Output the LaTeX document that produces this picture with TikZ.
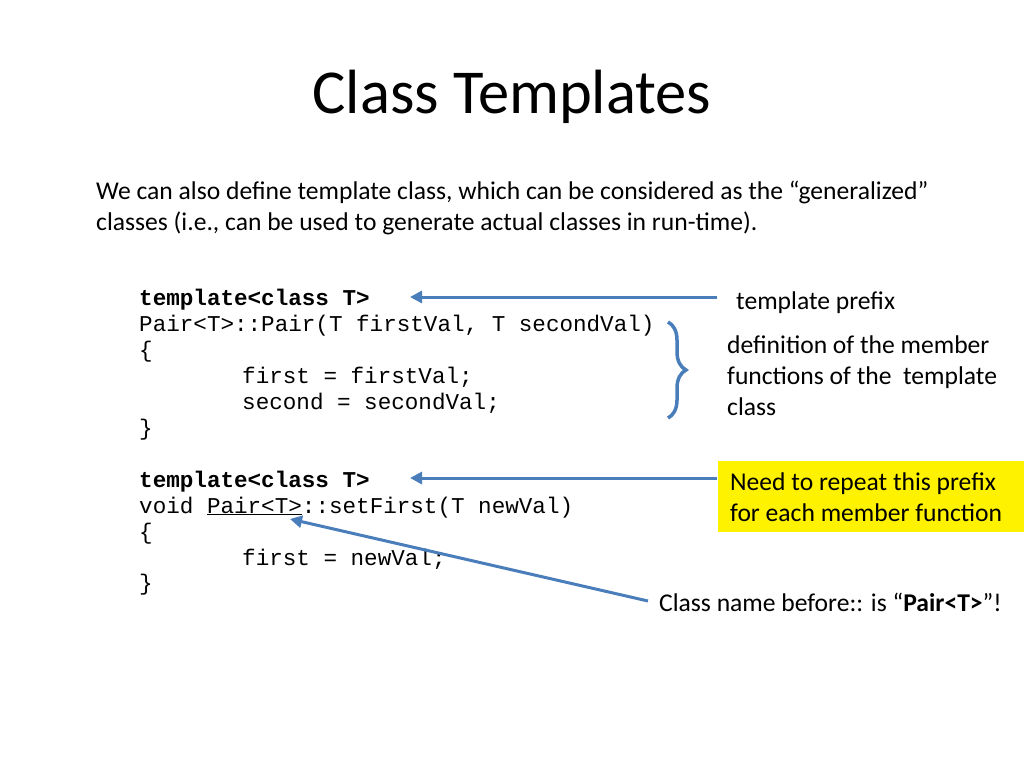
\documentclass[tikz,border=0pt]{standalone}
\usepackage{fontspec}
\setmainfont{Carlito}
\setmonofont{Liberation Mono}
\usetikzlibrary{arrows.meta,decorations.pathreplacing}
\definecolor{ablue}{HTML}{4A7EBB}
\tikzset{
  body/.style={anchor=west,inner sep=0pt,font=\fontsize{25.6}{31}\selectfont},
  code/.style={anchor=base west,inner sep=0pt,font=\fontsize{22.6}{26}\ttfamily},
  arr/.style={draw=ablue,line width=3pt,-{Triangle[length=12pt,width=12pt]}}
}
\begin{document}
\begin{tikzpicture}[x=1pt,y=-1pt]
\useasboundingbox (0,0) rectangle (1024,768);
\node[inner sep=0pt,font=\fontsize{62.5}{70}\selectfont] (title) at (512,97) {Class Templates};
\node[body] (p1) at (96,192) {We can also define template class, which can be considered as the “generalized”};
\node[body] (p2) at (96,223) {classes (i.e., can be used to generate actual classes in run-time).};
% code
\node[code] (c1) at (139,305) {\textbf{template<class T>}};
\node[code] (c2) at (139,331) {Pair<T>::Pair(T firstVal, T secondVal)};
\node[code] (c3) at (139,357) {\{};
\node[code] (c4) at (242,383) {first = firstVal;};
\node[code] (c5) at (242,409) {second = secondVal;};
\node[code] (c6) at (139,435) {\}};
\node[code] (d1) at (139,487) {\textbf{template<class T>}};
\node[code] (d2) at (139,513) {void \underline{Pair<T>}::setFirst(T newVal)};
\node[code] (d3) at (139,539) {\{};
\node[code] (d4) at (242,565) {first = newVal;};
\node[code] (d5) at (139,590) {\}};
% labels
\node[body] (l1) at (736,303) {template prefix};
\node[body,align=left,font=\fontsize{25.6}{31}\selectfont] (l2) at (727,376) {definition of the member\\functions of the\ \ template\\class};
\node[fill=yellow,anchor=north west,minimum width=306pt,minimum height=71pt,inner sep=0pt] (yb) at (718,461) {};
\node[body,align=left,font=\fontsize{25.6}{31}\selectfont] (l3) at (730,497) {Need to repeat this prefix\\for each member function};
\node[body] (l4) at (659,602) {Class name before:: is “\textbf{Pair<T>}”!};
\coordinate (a1s) at (717,297); \coordinate (a1e) at (410,297);
\coordinate (a2s) at (717,478); \coordinate (a2e) at (410,478);
\coordinate (a3s) at (648,601); \coordinate (a3e) at (290,519);
\draw[arr] (a1s) -- (a1e);
\draw[arr] (a2s) -- (a2e);
\draw[arr] (a3s) -- (a3e);
\draw[ablue,line width=3.5pt,decorate,decoration={brace,amplitude=18pt}] (668,322) -- (668,418);
\end{tikzpicture}
\end{document}
